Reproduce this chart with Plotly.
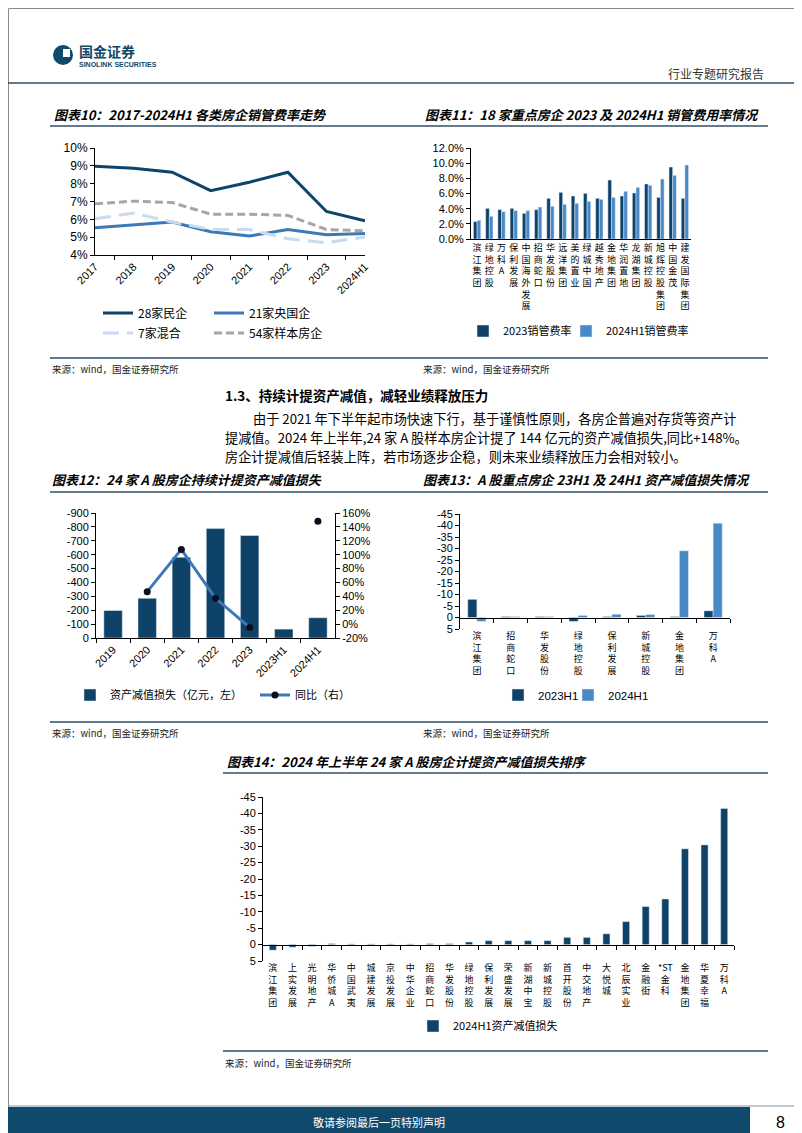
import plotly.graph_objects as go

W, H = 802, 1133


def X(px):
    return px / W


def Y(py):
    return 1 - py / H


LAT = "Liberation Sans, Noto Sans CJK SC, sans-serif"
CJK = "Noto Sans CJK SC, Liberation Sans, sans-serif"

# ---------------- data ----------------
# chart 10: selling & admin expense ratio (%)
years10 = ["2017", "2018", "2019", "2020", "2021", "2022", "2023", "2024H1"]
private28 = [8.97, 8.86, 8.64, 7.61, 8.08, 8.64, 6.44, 5.92]
soe21 = [5.53, 5.68, 5.85, 5.30, 5.06, 5.43, 5.14, 5.21]
mixed7 = [6.03, 6.35, 5.85, 5.43, 5.43, 4.91, 4.69, 5.01]
sample54 = [6.87, 7.02, 6.94, 6.29, 6.29, 6.22, 5.43, 5.36]
names10 = ["28家民企", "21家央国企", "7家混合", "54家样本房企"]
ticks10 = [4, 5, 6, 7, 8, 9, 10]

# chart 11: 18 developers (%)
firms11 = ["滨江集团", "绿地控股", "万科A", "保利发展", "中国海外发展", "招商蛇口",
           "华发股份", "远洋集团", "美的置业", "绿城中国", "越秀地产", "金地集团",
           "华润置地", "龙湖集团", "新城控股", "旭辉控股集团", "中国金茂", "建发国际集团"]
rate2023 = [2.29, 4.04, 3.87, 4.04, 3.38, 3.87, 5.36, 6.15, 5.67, 6.02, 5.36, 7.78,
            5.67, 6.07, 7.25, 5.49, 9.49, 5.36]
rate2024h1 = [2.46, 2.99, 3.60, 3.74, 3.74, 4.22, 4.31, 4.57, 4.70, 4.97, 5.23, 5.49,
              6.29, 6.81, 7.08, 7.91, 8.40, 9.76]
names11 = ["2023销管费率", "2024H1销管费率"]
ticks11 = [0, 2, 4, 6, 8, 10, 12]

# chart 12: impairment losses (100m yuan) and yoy (%)
periods12 = ["2019", "2020", "2021", "2022", "2023", "2023H1", "2024H1"]
impair12 = [-198, -286, -581, -788, -738, -64, -146]
yoy12 = [None, 46.7, 107.6, 37.1, -4.8, None, 148.0]
names12 = ["资产减值损失（亿元，左）", "同比（右）"]
left_ticks12 = [-900, -800, -700, -600, -500, -400, -300, -200, -100, 0]
right_ticks12 = [160, 140, 120, 100, 80, 60, 40, 20, 0, -20]

# chart 13: key developers 23H1 vs 24H1 (100m yuan)
firms13 = ["滨江集团", "招商蛇口", "华发股份", "绿地控股", "保利发展", "新城控股", "金地集团", "万科A"]
h1_2023 = [-7.9, -0.4, -0.4, 1.7, -0.4, -0.9, -0.4, -2.9]
h1_2024 = [1.7, -0.4, -0.4, -0.9, -1.4, -1.3, -29.0, -41.0]
names13 = ["2023H1", "2024H1"]

# chart 14: 24 developers 2024H1 (100m yuan)
firms14 = ["滨江集团", "上实发展", "光明地产", "华侨城A", "中国武夷", "城建发展", "京投发展",
           "中华企业", "招商蛇口", "华发股份", "绿地控股", "保利发展", "荣盛发展", "新湖中宝",
           "新城控股", "首开股份", "中交地产", "大悦城", "北辰实业", "金融街", "*ST金科",
           "金地集团", "华夏幸福", "万科A"]
loss14 = [1.7, 0.8, 0.5, -0.3, -0.2, -0.2, -0.2, -0.2, -0.3, -0.3, -0.8, -1.2, -1.2,
          -1.2, -1.2, -2.2, -2.2, -3.3, -7.0, -11.6, -13.9, -29.2, -30.4, -41.5]
name14 = "2024H1资产减值损失"
ticks45 = [-45, -40, -35, -30, -25, -20, -15, -10, -5, 0, 5]


def vert(s):
    parts, buf = [], ""
    for ch in s:
        if ord(ch) < 128:
            buf += ch
        else:
            if buf:
                parts.append(buf)
                buf = ""
            parts.append(ch)
    if buf:
        parts.append(buf)
    return "<br>".join(parts)


DARK = "#0d456a"
MID = "#3c79b6"
LIGHT = "#c9dcef"
GRAY = "#a6a6a6"
BAR_DARK = "#0e4268"
BAR_LIGHT = "#4a89c8"
LINECOL = "#2f4f66"

fig = go.Figure()

# ---------------- chart 10 ----------------
styles10 = [dict(color=DARK, width=3), dict(color=MID, width=3),
            dict(color=LIGHT, width=3, dash="16px,8px"), dict(color=GRAY, width=3, dash="8px,4px")]
for i, (nm, vals) in enumerate(zip(names10, [private28, soe21, mixed7, sample54])):
    fig.add_trace(go.Scatter(x=years10, y=vals, mode="lines", name=nm, line=styles10[i],
                             xaxis="x", yaxis="y", showlegend=True,
                             legend="legend" if i == 0 else f"legend{i + 1}"))

# ---------------- chart 11 ----------------
lab11 = [vert(f) for f in firms11]
fig.add_trace(go.Bar(x=lab11, y=rate2023, name=names11[0], marker_color=BAR_DARK,
                     width=0.3, offset=-0.3, xaxis="x2", yaxis="y2", legend="legend5"))
fig.add_trace(go.Bar(x=lab11, y=rate2024h1, name=names11[1], marker_color=BAR_LIGHT,
                     width=0.3, offset=0.0, xaxis="x2", yaxis="y2", legend="legend10"))

# ---------------- chart 12 ----------------
fig.add_trace(go.Bar(x=periods12, y=impair12, name=names12[0], marker_color=BAR_DARK,
                     width=0.54, offset=-0.27, xaxis="x3", yaxis="y3", legend="legend6"))
fig.add_trace(go.Scatter(x=periods12, y=yoy12, name=names12[1], mode="lines+markers",
                         line=dict(color=MID, width=3),
                         marker=dict(color="#0a0f1e", size=7),
                         connectgaps=False, xaxis="x3", yaxis="y4", legend="legend7"))

# ---------------- chart 13 ----------------
lab13 = [vert(f) for f in firms13]
fig.add_trace(go.Bar(x=lab13, y=h1_2023, name=names13[0], marker_color=BAR_DARK,
                     width=0.27, offset=-0.27, xaxis="x4", yaxis="y5", legend="legend8"))
fig.add_trace(go.Bar(x=lab13, y=h1_2024, name=names13[1], marker_color=BAR_LIGHT,
                     width=0.27, offset=0.0, xaxis="x4", yaxis="y5", legend="legend11"))

# ---------------- chart 14 ----------------
lab14 = [vert(f) for f in firms14]
fig.add_trace(go.Bar(x=lab14, y=loss14, name=name14, marker_color=BAR_DARK,
                     width=0.36, offset=-0.18, xaxis="x5", yaxis="y6", legend="legend9"))

# overlay axes carrying the zero baseline ticks (charts 13, 14)
fig.add_trace(go.Scatter(x=[], y=[], showlegend=False, xaxis="x6", yaxis="y5"))
fig.add_trace(go.Scatter(x=[], y=[], showlegend=False, xaxis="x7", yaxis="y6"))

axis_common = dict(showgrid=False, zeroline=False, showline=True, linecolor="#000000",
                   linewidth=1, tickfont=dict(family=LAT, size=11, color="#000"),
                   ticks="outside", ticklen=4, tickcolor="#000", fixedrange=True,
                   automargin=False)


def dom_x(a, b):
    return [X(a), X(b)]


def dom_y(top, bottom):
    return [Y(bottom), Y(top)]


r13 = [5, -45]
r14 = [5, -45]
d13 = dom_y(506, 621)
d14 = dom_y(789, 953)
zero13 = d13[0] + (0 - r13[0]) / (r13[1] - r13[0]) * (d13[1] - d13[0])
zero14 = d14[0] + (0 - r14[0]) / (r14[1] - r14[0]) * (d14[1] - d14[0])

fig.update_layout(
    width=W, height=H, autosize=False,
    margin=dict(l=0, r=0, t=0, b=0, pad=0, autoexpand=False),
    paper_bgcolor="white", plot_bgcolor="white",
    font=dict(family=CJK, size=12, color="#000"),
    barmode="group", showlegend=True,
    # chart 10
    xaxis=dict(axis_common, domain=dom_x(87, 357), anchor="y", type="category",
               tickson="boundaries", tickangle=-45),
    yaxis=dict(axis_common, domain=dom_y(140, 247), anchor="x", range=[4, 10],
               tickvals=ticks10, ticktext=[f"{v}%" for v in ticks10],
               tickfont=dict(family=LAT, size=12)),
    # chart 11
    xaxis2=dict(axis_common, domain=dom_x(463, 683), anchor="y2", type="category",
                ticks="", tickfont=dict(family=CJK, size=9), tickangle=0),
    yaxis2=dict(axis_common, domain=dom_y(140, 231), anchor="x2", range=[0, 12],
                tickvals=ticks11, ticktext=[f"{v:.1f}%" for v in ticks11]),
    # chart 12
    xaxis3=dict(axis_common, domain=dom_x(88, 327), anchor="y3", type="category",
                tickson="boundaries", tickangle=-45),
    yaxis3=dict(axis_common, domain=dom_y(505, 630), anchor="x3", range=[0, -900],
                tickvals=left_ticks12, ticktext=[str(v) for v in left_ticks12]),
    yaxis4=dict(axis_common, domain=dom_y(505, 630), anchor="x3", overlaying="y3", side="right",
                range=[-20, 160], tickvals=right_ticks12,
                ticktext=[f"{v}%" for v in right_ticks12]),
    # chart 13
    xaxis4=dict(axis_common, domain=dom_x(452, 722), anchor="y5", type="category",
                showline=False, ticks="", tickfont=dict(family=CJK, size=9), tickangle=0,
                range=[-0.5, len(firms13) - 0.5]),
    yaxis5=dict(axis_common, domain=d13, anchor="x4", range=r13,
                tickvals=ticks45, ticktext=[str(v) for v in ticks45]),
    xaxis6=dict(axis_common, domain=dom_x(452, 722), anchor="free", position=zero13,
                overlaying="x4", range=[-0.5, len(firms13) - 0.5],
                tickvals=[i + 0.5 for i in range(len(firms13))], showticklabels=False),
    # chart 14
    xaxis5=dict(axis_common, domain=dom_x(255, 726), anchor="y6", type="category",
                showline=False, ticks="", tickfont=dict(family=CJK, size=9), tickangle=0,
                range=[-0.5, len(firms14) - 0.5]),
    yaxis6=dict(axis_common, domain=d14, anchor="x5", range=r14,
                tickvals=ticks45, ticktext=[str(v) for v in ticks45]),
    xaxis7=dict(axis_common, domain=dom_x(255, 726), anchor="free", position=zero14,
                overlaying="x5", range=[-0.5, len(firms14) - 0.5],
                tickvals=[i + 0.5 for i in range(len(firms14))], showticklabels=False),
)

leg_common = dict(orientation="h", xanchor="left", yanchor="middle", bgcolor="rgba(0,0,0,0)",
                  font=dict(family=CJK, size=12, color="#000"), itemwidth=30,
                  itemclick=False, itemdoubleclick=False, visible=True)
fig.update_layout(
    legend=dict(leg_common, x=X(90), y=Y(305)),
    legend2=dict(leg_common, x=X(201), y=Y(305)),
    legend3=dict(leg_common, x=X(90), y=Y(325)),
    legend4=dict(leg_common, x=X(201), y=Y(325)),
    legend5=dict(leg_common, x=X(455), y=Y(323), font=dict(family=CJK, size=11)),
    legend10=dict(leg_common, x=X(558), y=Y(323), font=dict(family=CJK, size=11)),
    legend6=dict(leg_common, x=X(62), y=Y(687), font=dict(family=CJK, size=11)),
    legend7=dict(leg_common, x=X(247), y=Y(687), font=dict(family=CJK, size=11)),
    legend8=dict(leg_common, x=X(490), y=Y(687), font=dict(family=LAT, size=11.5)),
    legend11=dict(leg_common, x=X(560), y=Y(687), font=dict(family=LAT, size=11.5)),
    legend9=dict(leg_common, x=X(405), y=Y(1018), font=dict(family=CJK, size=11)),
)

shapes = []


def hline(y, x0, x1, color, width):
    shapes.append(dict(type="line", xref="paper", yref="paper", x0=X(x0), x1=X(x1),
                       y0=Y(y), y1=Y(y), line=dict(color=color, width=width)))


# page frame
shapes.append(dict(type="rect", xref="paper", yref="paper", x0=X(0.5), x1=X(801.5),
                   y0=Y(0.5), y1=Y(1132.5), line=dict(color="#8a8a8a", width=1)))
hline(75, 0, 802, LINECOL, 1.5)
hline(118, 42, 760, LINECOL, 1.5)
hline(350, 42, 760, "#5d7a8e", 2)
hline(484, 42, 760, LINECOL, 1.5)
hline(714, 42, 760, "#5d7a8e", 2)
hline(765, 215, 760, LINECOL, 1.5)
hline(1043, 215, 760, "#5d7a8e", 2)
# footer band
shapes.append(dict(type="rect", xref="paper", yref="paper", x0=X(0), x1=X(742),
                   y0=Y(1130), y1=Y(1099), fillcolor="#0f4a6c", line=dict(width=0)))
hline(1098, 0, 802, "#7f95a3", 1)
# logo
shapes.append(dict(type="circle", xref="paper", yref="paper", x0=X(45), x1=X(65),
                   y0=Y(57), y1=Y(37), fillcolor="#0f4a6c", line=dict(width=0)))
shapes.append(dict(type="rect", xref="paper", yref="paper", x0=X(55), x1=X(62),
                   y0=Y(49), y1=Y(41), fillcolor="white", line=dict(width=0)))

annotations = []


def text(x, y, s, size=12, family=CJK, color="#000", anchor="left", bold=False, italic=False):
    if bold:
        s = f"<b>{s}</b>"
    if italic:
        s = f"<i>{s}</i>"
    annotations.append(dict(x=X(x), y=Y(y), xref="paper", yref="paper", text=s, showarrow=False,
                            xanchor=anchor, yanchor="middle", align="left",
                            font=dict(family=family, size=size, color=color)))


text(69, 43, "国金证券", size=14, color="#0f4a6c", bold=True)
text(69, 57, "SINOLINK SECURITIES", size=7, family=LAT, color="#0f4a6c", bold=True)
text(758, 66, "行业专题研究报告", size=12, color="#333", anchor="right")

text(44, 107, "图表10：2017-2024H1 各类房企销管费率走势", size=13, bold=True, italic=True)
text(415, 107, "图表11：18 家重点房企 2023 及 2024H1 销管费用率情况", size=13, bold=True, italic=True)
text(42, 361, "来源：wind，国金证券研究所", size=9.5, color="#222")
text(413, 361, "来源：wind，国金证券研究所", size=9.5, color="#222")

text(215, 387, "1.3、持续计提资产减值，减轻业绩释放压力", size=13.5, bold=True)
text(243, 410.5, "由于 2021 年下半年起市场快速下行，基于谨慎性原则，各房企普遍对存货等资产计", size=13.2)
text(215, 429.5, "提减值。2024 年上半年,24 家 A 股样本房企计提了 144 亿元的资产减值损失,同比+148%。",
     size=13.2)
text(215, 448.5, "房企计提减值后轻装上阵，若市场逐步企稳，则未来业绩释放压力会相对较小。", size=13.2)

text(42, 472, "图表12：24 家 A 股房企持续计提资产减值损失", size=13, bold=True, italic=True)
text(413, 472, "图表13：A 股重点房企 23H1 及 24H1 资产减值损失情况", size=13, bold=True, italic=True)
text(42, 725, "来源：wind，国金证券研究所", size=9.5, color="#222")
text(413, 725, "来源：wind，国金证券研究所", size=9.5, color="#222")

text(217, 753, "图表14：2024 年上半年 24 家 A 股房企计提资产减值损失排序", size=13, bold=True, italic=True)
text(215, 1055, "来源：wind，国金证券研究所", size=9.5, color="#222")

text(371, 1114, "敬请参阅最后一页特别声明", size=11, color="white", anchor="center")
text(772, 1114, "8", size=16, family=LAT, anchor="center")

fig.update_layout(shapes=shapes, annotations=annotations)

fig.write_html("out.html")
